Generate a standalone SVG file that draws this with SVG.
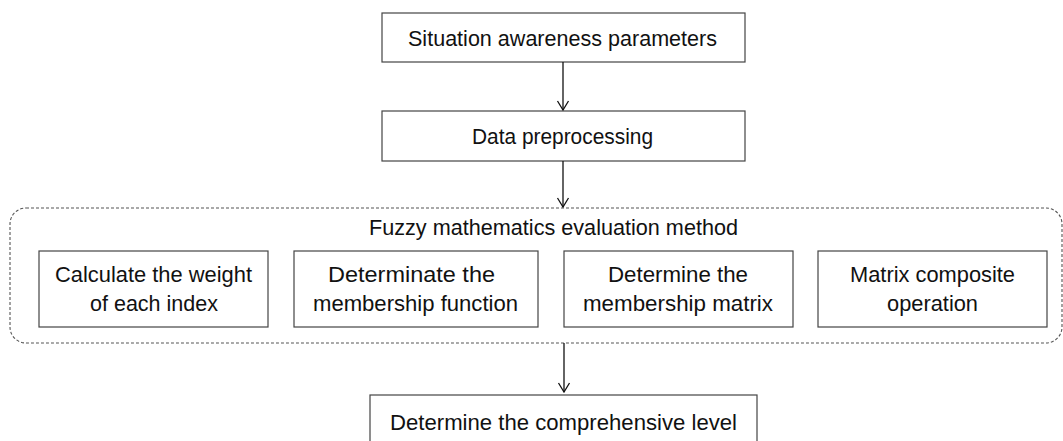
<svg xmlns="http://www.w3.org/2000/svg" width="1063" height="441" viewBox="0 0 1063 441">
<style>
.box{fill:#fff;stroke:#444;stroke-width:1.2}
.grp{fill:none;stroke:#555;stroke-width:1.1;stroke-dasharray:3 2}
.t{font-family:"Liberation Sans",Arial,sans-serif;font-size:21.5px;fill:#111}
.c{text-anchor:middle}
.conn{stroke:#111;stroke-width:1.3;fill:none;marker-end:url(#arr)}
</style>
<defs>
<marker id="arr" viewBox="0 0 12 14" refX="11" refY="7" markerWidth="12" markerHeight="14" markerUnits="userSpaceOnUse" orient="auto">
<path d="M2,1.5 L11,7 L2,12.5" fill="none" stroke="#111" stroke-width="1.3"/>
</marker>
</defs>
<g id="n1"><rect class="box" x="382" y="13" width="363" height="49"/><text class="t c" x="562.5" y="46" textLength="309" lengthAdjust="spacingAndGlyphs">Situation awareness parameters</text></g>
<g id="n2"><rect class="box" x="382" y="111" width="363" height="50"/><text class="t c" x="562.5" y="144" textLength="181" lengthAdjust="spacingAndGlyphs">Data preprocessing</text></g>
<g id="grp"><rect class="grp" x="10" y="208" width="1052" height="135" rx="16"/><text class="t" x="369" y="235" textLength="369" lengthAdjust="spacingAndGlyphs">Fuzzy mathematics evaluation method</text></g>
<g id="n3"><rect class="box" x="39" y="251" width="229" height="76"/><text class="t c" x="153.5" y="282" textLength="197" lengthAdjust="spacingAndGlyphs">Calculate the weight</text><text class="t c" x="154" y="311" textLength="128" lengthAdjust="spacingAndGlyphs">of each index</text></g>
<g id="n4"><rect class="box" x="294" y="251" width="244" height="76"/><text class="t c" x="411.5" y="282" textLength="167" lengthAdjust="spacingAndGlyphs">Determinate the</text><text class="t c" x="415.5" y="311" textLength="205" lengthAdjust="spacingAndGlyphs">membership function</text></g>
<g id="n5"><rect class="box" x="564" y="251" width="229" height="76"/><text class="t c" x="678" y="282" textLength="140" lengthAdjust="spacingAndGlyphs">Determine the</text><text class="t c" x="678" y="311" textLength="190" lengthAdjust="spacingAndGlyphs">membership matrix</text></g>
<g id="n6"><rect class="box" x="818" y="251" width="229" height="76"/><text class="t c" x="932.5" y="282" textLength="165" lengthAdjust="spacingAndGlyphs">Matrix composite</text><text class="t c" x="932.5" y="311" textLength="91" lengthAdjust="spacingAndGlyphs">operation</text></g>
<g id="n7"><rect class="box" x="370" y="395" width="387" height="60"/><text class="t c" x="563.5" y="430" textLength="347" lengthAdjust="spacingAndGlyphs">Determine the comprehensive level</text></g>
<g id="connectors">
<line class="conn" x1="563" y1="62" x2="563" y2="110"/>
<line class="conn" x1="563" y1="161" x2="563" y2="207"/>
<line class="conn" x1="564" y1="343" x2="564" y2="392"/>
</g>
</svg>
